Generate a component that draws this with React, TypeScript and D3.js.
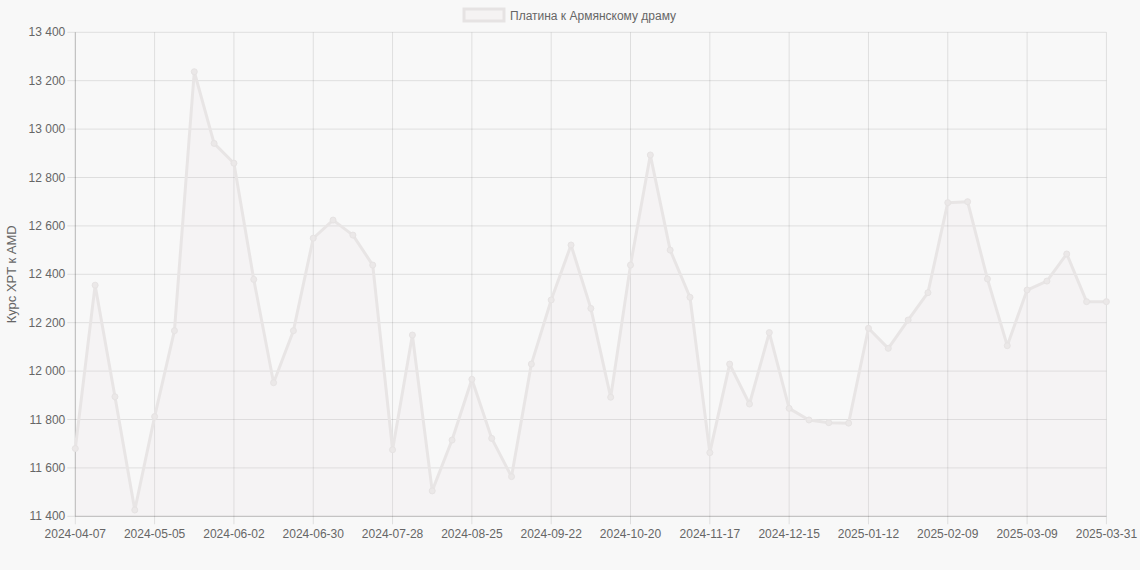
import React, { useEffect, useRef } from 'react';
import * as d3 from 'd3';

const dates = [
  '2024-04-07', '2024-04-14', '2024-04-21', '2024-04-28', '2024-05-05', '2024-05-12', '2024-05-19',
  '2024-05-26', '2024-06-02', '2024-06-09', '2024-06-16', '2024-06-23', '2024-06-30', '2024-07-07',
  '2024-07-14', '2024-07-21', '2024-07-28', '2024-08-04', '2024-08-11', '2024-08-18', '2024-08-25',
  '2024-09-01', '2024-09-08', '2024-09-15', '2024-09-22', '2024-09-29', '2024-10-06', '2024-10-13',
  '2024-10-20', '2024-10-27', '2024-11-03', '2024-11-10', '2024-11-17', '2024-11-24', '2024-12-01',
  '2024-12-08', '2024-12-15', '2024-12-22', '2024-12-29', '2025-01-05', '2025-01-12', '2025-01-19',
  '2025-01-26', '2025-02-02', '2025-02-09', '2025-02-16', '2025-02-23', '2025-03-02', '2025-03-09',
  '2025-03-16', '2025-03-23', '2025-03-30', '2025-03-31',
];

const rates = [
  11680, 12355, 11894, 11426, 11812, 12167, 13237, 12941, 12859, 12379, 11952, 12167, 12549, 12624,
  12562, 12438, 11675, 12149, 11505, 11715, 11966, 11722, 11564, 12029, 12294, 12521, 12259, 11892,
  12438, 12893, 12500, 12305, 11663, 12029, 11864, 12159, 11846, 11798, 11787, 11785, 12177, 12094,
  12211, 12324, 12696, 12700, 12381, 12105, 12335, 12372, 12484, 12287, 12287,
];

const yTicks = [11400, 11600, 11800, 12000, 12200, 12400, 12600, 12800, 13000, 13200, 13400];

const seriesLabel = 'Платина к Армянскому драму';
const yTitle = 'Курс XPT к AMD';

const W = 1140;
const H = 570;
const FONT = '"Liberation Sans", Arial, Helvetica, sans-serif';

const App: React.FC = () => {
  const ref = useRef<SVGSVGElement>(null);

  useEffect(() => {
    document.body.style.margin = '0';
    document.body.style.background = '#f8f8f8';
    if (!ref.current) return;
    const svg = d3.select(ref.current);
    svg.selectAll('*').remove();

    const left = 75.3, right = 1106.4, top = 32.3, bottom = 516.3;

    const x = d3.scalePoint<string>().domain(dates).range([left, right]);
    const y = d3.scaleLinear().domain([11400, 13400]).range([bottom, top]);

    const grid = svg.append('g');
    // horizontal grid + y ticks
    yTicks.forEach(t => {
      grid.append('line')
        .attr('x1', left - 8).attr('x2', right)
        .attr('y1', y(t)).attr('y2', y(t))
        .attr('stroke', 'rgba(0,0,0,0.1)').attr('stroke-width', 1);
      svg.append('text')
        .attr('x', left - 10).attr('y', y(t) + 4)
        .attr('text-anchor', 'end')
        .attr('font-family', FONT).attr('font-size', 12).attr('fill', '#666')
        .text(d3.format(',')(t).replace(',', ' '));
    });

    // vertical grid + x ticks every 4th label
    dates.forEach((d, i) => {
      if (i % 4 !== 0) return;
      const xp = x(d)!;
      grid.append('line')
        .attr('x1', xp).attr('x2', xp)
        .attr('y1', top).attr('y2', bottom + 8)
        .attr('stroke', 'rgba(0,0,0,0.1)').attr('stroke-width', 1);
      svg.append('text')
        .attr('x', xp).attr('y', bottom + 22)
        .attr('text-anchor', 'middle')
        .attr('font-family', FONT).attr('font-size', 12).attr('fill', '#666')
        .text(d);
    });

    // axis lines
    grid.append('line')
      .attr('x1', left).attr('x2', left).attr('y1', top).attr('y2', bottom)
      .attr('stroke', 'rgba(0,0,0,0.18)');
    grid.append('line')
      .attr('x1', left).attr('x2', right).attr('y1', bottom).attr('y2', bottom)
      .attr('stroke', 'rgba(0,0,0,0.18)');

    const area = d3.area<number>()
      .x((_, i) => x(dates[i])!)
      .y0(bottom)
      .y1(v => y(v));
    svg.append('path')
      .attr('d', area(rates)!)
      .attr('fill', 'rgba(230,210,218,0.14)');

    const line = d3.line<number>()
      .x((_, i) => x(dates[i])!)
      .y(v => y(v));
    svg.append('path')
      .attr('d', line(rates)!)
      .attr('fill', 'none')
      .attr('stroke', '#e8e5e5')
      .attr('stroke-width', 3)
      .attr('stroke-linejoin', 'round');

    svg.append('g').selectAll('circle')
      .data(rates)
      .enter()
      .append('circle')
      .attr('cx', (_, i) => x(dates[i])!)
      .attr('cy', v => y(v))
      .attr('r', 3)
      .attr('fill', '#ebe8e8')
      .attr('stroke', '#e6e3e3')
      .attr('stroke-width', 1);

    // legend
    svg.append('rect')
      .attr('x', 464).attr('y', 9).attr('width', 40).attr('height', 12)
      .attr('fill', '#f5f3f3').attr('stroke', '#e6e3e3').attr('stroke-width', 3);
    svg.append('text')
      .attr('x', 510).attr('y', 19.5)
      .attr('font-family', FONT).attr('font-size', 12).attr('fill', '#666')
      .text(seriesLabel);

    // y title
    svg.append('text')
      .attr('transform', `translate(16, ${(top + bottom) / 2}) rotate(-90)`)
      .attr('text-anchor', 'middle')
      .attr('font-family', FONT).attr('font-size', 13).attr('fill', '#666')
      .text(yTitle);
  }, []);

  return <svg ref={ref} width={W} height={H} style={{ display: 'block', background: '#f8f8f8' }} />;
};

export default App;
